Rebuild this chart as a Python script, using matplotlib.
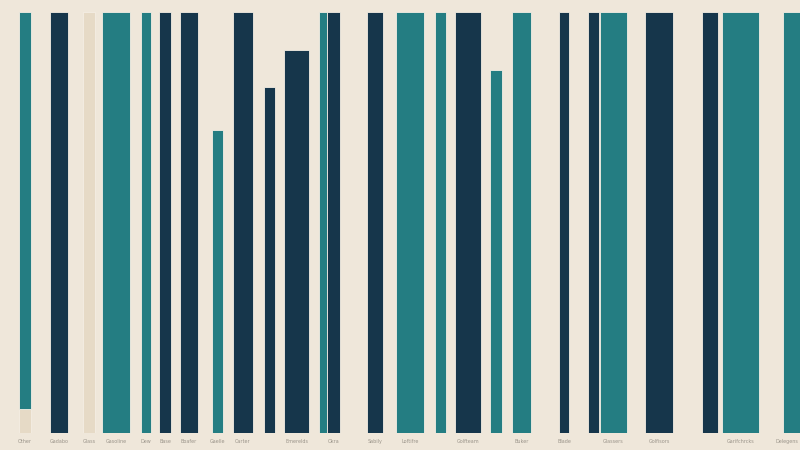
import matplotlib.pyplot as plt

# categories along a continuous axis: start position and span of each bar
labels = ['Other', 'Gadabo', 'Glass', 'Gasoline', 'Dew', 'Base', 'Boafer',
          'Gaelle', 'Carter', '', 'Emerelds', '', 'Okra', 'Sabily', 'Loftifre',
          '', 'Golfteam', '', 'Buker', 'Blade', '', 'Glassers', 'Golfisors',
          '', 'Garifchrcks', 'Delegens']
starts = [19, 50, 83, 102, 141, 159, 180, 212, 233, 264, 284, 319, 327, 367,
          396, 435, 455, 490, 512, 559, 588, 600, 645, 702, 722, 783]
spans = [12, 18, 12, 28, 10, 12, 18, 11, 20, 11, 25, 8, 13, 16, 28, 11, 26,
         12, 19, 10, 11, 27, 28, 16, 37, 20]
values = [94.3, 100, 100, 100, 100, 100, 100, 71.9, 100, 82.1, 91.0, 100, 100,
          100, 100, 100, 100, 86.2, 100, 100, 100, 100, 100, 100, 100, 100]
groups = ['t', 'n', 'b', 't', 't', 'n', 'n', 't', 'n', 'n', 'n', 't', 'n', 'n',
          't', 't', 'n', 't', 't', 'n', 'n', 't', 'n', 'n', 't', 't']
base = [5.7] + [0] * (len(values) - 1)

colors = {'t': '#247d82', 'n': '#16364b', 'b': '#e6dac6'}
bg = '#efe7da'

fig = plt.figure(figsize=(8, 4.5), dpi=100, facecolor=bg)
ax = fig.add_axes([0, 0.038, 1, 0.935])
ax.set_facecolor(bg)

ax.bar(starts, base, width=spans, align='edge', color='#e6dac6',
       edgecolor='#f4eee4', linewidth=0.6)
ax.bar(starts, values, width=spans, bottom=base, align='edge',
       color=[colors[g] for g in groups], edgecolor='#f4eee4', linewidth=0.6)

for i, (s, w, lab) in enumerate(zip(starts, spans, labels)):
    if not lab:
        continue
    if i == len(labels) - 1:
        # last bar runs off the edge, keep its label inside
        ax.text(798, -1.5, lab, ha='right', va='top',
                fontsize=3.5, color='#9a948a')
    else:
        ax.text(s + w / 2, -1.5, lab, ha='center', va='top',
                fontsize=3.5, color='#9a948a')

ax.set_xlim(0, 800)
ax.set_ylim(0, 100)
ax.axis('off')

fig.savefig('out.png', dpi=100, facecolor=bg)
